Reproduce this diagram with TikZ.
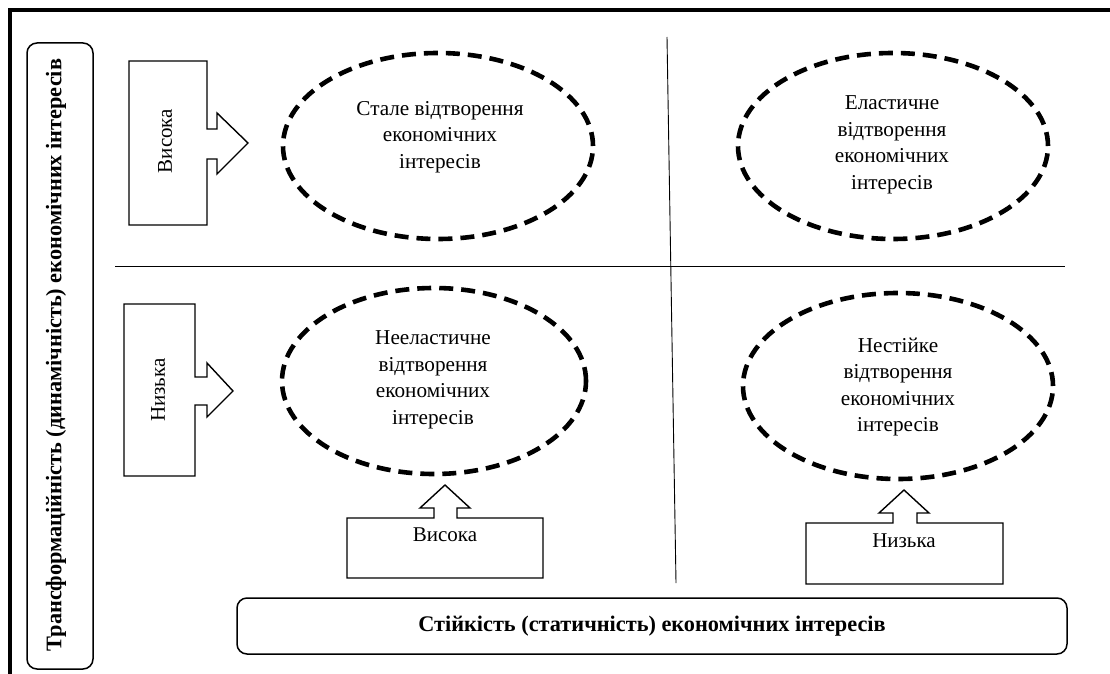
\documentclass[tikz,border=0pt]{standalone}
\usepackage{fontspec}
\setmainfont{Liberation Serif}
\usetikzlibrary{shapes.geometric}
\tikzset{
  oval/.style={ellipse, draw, line width=4.6pt, dash pattern=on 14pt off 8pt, minimum width=#1, minimum height=186pt, inner sep=0pt},
  oval/.default=310pt,
  ovaltext/.style={align=center, inner sep=0pt, font=\fontsize{21.2}{26.5}\selectfont},
  blockarrow/.style={draw, line width=1.4pt, line join=miter, fill=white},
  sidetext/.style={rotate=90, inner sep=0pt, font=\fontsize{21}{25}\selectfont},
  boxtext/.style={inner sep=0pt, font=\fontsize{21}{25}\selectfont},
  titlebox/.style={draw, line width=1.5pt, rounded corners=10pt},
  titletext/.style={inner sep=0pt, font=\bfseries\fontsize{22.3}{26}\selectfont},
  divider/.style={line width=0.9pt},
}
\begin{document}
\begin{tikzpicture}[x=1pt,y=-1pt]
\useasboundingbox (0,0) rectangle (1110,674);
\fill[white] (0,0) rectangle (1110,674);
% frame (top and left)
\draw[line width=4pt] (10,674) -- (10,10) -- (1110,10);
% dividers
\coordinate (hL) at (115,266);
\coordinate (hR) at (1065,266);
\coordinate (vT) at (667,37);
\coordinate (vB) at (676,583);
\draw[divider] (hL) -- (hR);
\draw[divider] (vT) -- (vB);
% left title
\draw[titlebox] (27,43) rectangle (93,669);
\node[titletext, rotate=90] (ytitle) at (56,355) {Трансформаційність (динамічність) економічних інтересів};
% bottom title
\draw[titlebox] (237,598) rectangle (1067,654);
\node[titletext] (xtitle) at (652,626) {Стійкість (статичність) економічних інтересів};
% ellipses
\node[oval] (tl) at (438,146) {};
\node[ovaltext] (tlt) at (440,137) {Стале відтворення\\економічних\\інтересів};
\node[oval] (tr) at (893,146) {};
\node[ovaltext] (trt) at (892,145) {Еластичне\\відтворення\\економічних\\інтересів};
\node[oval=304pt] (bl) at (434,381) {};
\node[ovaltext] (blt) at (433,380) {Нееластичне\\відтворення\\економічних\\інтересів};
\node[oval] (br) at (898,386) {};
\node[ovaltext] (brt) at (898,387) {Нестійке\\відтворення\\економічних\\інтересів};
% left block arrows
\draw[blockarrow] (129,61) -- (207,61) -- (207,129) -- (217,129) -- (217,113) -- (248,143)
  -- (217,174) -- (217,159) -- (207,159) -- (207,225) -- (129,225) -- cycle;
\node[sidetext] (yhigh) at (165,141) {Висока};
\draw[blockarrow] (124,304) -- (195,304) -- (195,377) -- (207,377) -- (207,363) -- (233,391)
  -- (207,417) -- (207,405) -- (195,405) -- (195,476) -- (124,476) -- cycle;
\node[sidetext] (ylow) at (158,390) {Низька};
% bottom block arrows
\draw[blockarrow] (347,518) -- (434,518) -- (434,508) -- (420,508) -- (445,485) -- (470,508)
  -- (457,508) -- (457,518) -- (543,518) -- (543,578) -- (347,578) -- cycle;
\node[boxtext] (xhigh) at (445,535) {Висока};
\draw[blockarrow] (806,523) -- (893,523) -- (893,513) -- (879,513) -- (904,490) -- (929,513)
  -- (917,513) -- (917,523) -- (1003,523) -- (1003,584) -- (806,584) -- cycle;
\node[boxtext] (xlow) at (904,541) {Низька};
\end{tikzpicture}
\end{document}
